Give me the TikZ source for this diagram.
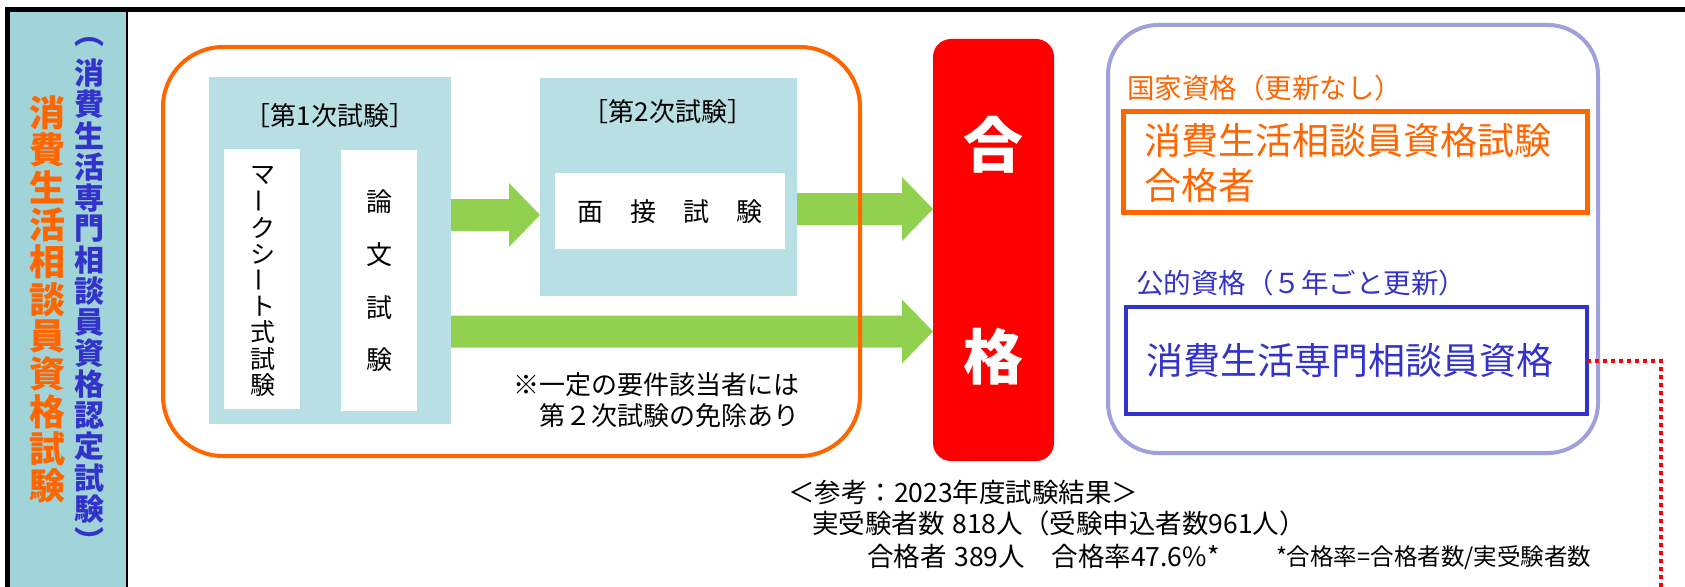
\documentclass[tikz,border=0pt]{standalone}
\usepackage{fontspec}
\usepackage{graphicx}
\setmainfont{Noto Sans CJK JP}
\usetikzlibrary{calc}
\definecolor{orangeC}{RGB}{255,102,0}
\definecolor{blueC}{RGB}{51,51,204}
\definecolor{lavC}{RGB}{160,160,220}
\definecolor{tealL}{RGB}{160,212,216}
\definecolor{tealP}{RGB}{184,223,227}
\definecolor{greenA}{RGB}{146,208,80}
\definecolor{redC}{RGB}{255,0,0}
\newcommand{\vbar}{\rotatebox[origin=c]{90}{ー}}
\newcommand{\blockarrow}[3]{%
  \fill[greenA] let \p1=(#1 |- 0,#3), \p2=(#2 |- 0,#3) in
    (\x1,\y1+16pt) -- (\x2-31pt,\y1+16pt) -- (\x2-31pt,\y1+32pt) -- (\x2,\y1)
    -- (\x2-31pt,\y1-32pt) -- (\x2-31pt,\y1-16pt) -- (\x1,\y1-16pt) -- cycle;}
\begin{document}
\begin{tikzpicture}[x=1pt,y=-1pt,
  every node/.style={inner sep=0pt, outer sep=0pt},
  fsz/.style={font=\fontsize{#1}{#1}\selectfont},
  panelbox/.style={fill=tealP},
  whitebox/.style={fill=white},
  bigframe/.style={line width=4pt, rounded corners=#1},
]
\useasboundingbox (0,0) rectangle (1685,586);
\clip (0,0) rectangle (1685,586);
\fill[white] (0,0) rectangle (1685,586);

% left title panel
\fill[tealL] (10,12) rectangle (126,600);
\draw[line width=2pt] (127,12) -- (127,600);
\draw[line width=5pt] (7.5,600) -- (7.5,9.5) -- (1700,9.5);
\foreach \c [count=\i from 0] in {消,費,生,活,相,談,員,資,格,試,験}
  \node[text=orangeC, font=\bfseries\fontsize{36}{36}\selectfont] (ot\i) at (47, 113+37.3*\i) {\c};
\foreach \c [count=\i from 0] in {︵,消,費,生,活,専,門,相,談,員,資,格,認,定,試,験,︶}
  \node[text=blueC, font=\bfseries\fontsize{30}{30}\selectfont] (bt\i) at (89.5, 42.3+31.1*\i) {\c};

% first exam panel
\node[panelbox, minimum width=242pt, minimum height=347pt] (p1) at (330,250.5) {};
\node[fsz=26] (t1) at (330,116) {［第1次試験］};
\node[whitebox, minimum width=76pt, minimum height=260pt] (m1) at (262,279) {};
\node[whitebox, minimum width=76pt, minimum height=261pt] (m2) at (379,280.5) {};
\foreach \c [count=\i from 0] in {マ,\vbar,ク,シ,\vbar,ト,式,試,験}
  \node[fsz=25] (mk\i) at (263, 175+26.25*\i) {\c};
\foreach \c [count=\i from 0] in {論,文,試,験}
  \node[fsz=26] (rb\i) at (379, 202+52.7*\i) {\c};

% second exam panel
\node[panelbox, minimum width=257pt, minimum height=218pt] (p2) at (668.5,187) {};
\node[fsz=26] (t2) at (668,112) {［第2次試験］};
\node[whitebox, minimum width=230pt, minimum height=76pt] (m3) at (670,211) {};
\foreach \c [count=\i from 0] in {面,接,試,験}
  \node[fsz=26] (mn\i) at (590+53*\i, 212) {\c};

% pass box
\node[fill=redC, rounded corners=18pt, minimum width=121pt, minimum height=422pt] (pass) at (993.5,250) {};
\node[text=white, font=\bfseries\fontsize{60}{60}\selectfont] (g1) at (993,145) {合};
\node[text=white, font=\bfseries\fontsize{60}{60}\selectfont] (g2) at (993,357) {格};

% arrows
\blockarrow{p1.east}{p2.west}{215}
\blockarrow{p2.east}{pass.west}{209}
\blockarrow{p1.east}{pass.west}{331.5}

% orange rounded frame
\node[draw=orangeC, bigframe=60pt, minimum width=697pt, minimum height=409pt] (ob) at (511.5,251.5) {};
\node[font=\fontsize{26}{31}\selectfont, align=right, anchor=east] (note) at (799,400.5)
  {※一定の要件該当者には\\第２次試験の免除あり};

% right qualifications
\node[draw=lavC, bigframe=50pt, minimum width=490pt, minimum height=428pt] (lav) at (1353,239) {};
\node[fsz=27.5, text=orangeC, anchor=west] (kq) at (1127,88) {国家資格（更新なし）};
\node[draw=orangeC, line width=5pt, minimum width=464pt, minimum height=101pt] (obox) at (1355,161.5) {};
\node[fsz=37, text=orangeC, anchor=west] (ol1) at (1144,140) {消費生活相談員資格試験};
\node[fsz=37, text=orangeC, anchor=west] (ol2) at (1144,185) {合格者};
\node[fsz=27.5, text=blueC, anchor=west] (pq) at (1136,283) {公的資格（５年ごと更新）};
\node[draw=blueC, line width=4pt, minimum width=461pt, minimum height=107pt] (bbox) at (1356.5,360.5) {};
\node[fsz=37, text=blueC, anchor=west] (bl1) at (1146,360) {消費生活専門相談員資格};

% dotted connector
\coordinate (dc) at (1661,360.5);
\coordinate (dend) at (1661,600);
\draw[redC, line width=4pt, dash pattern=on 4pt off 4pt] (bbox.east) -- (dc) -- (dend);

% results
\node[fsz=26.5, anchor=west] (r1) at (788,492) {＜参考：2023年度試験結果＞};
\node[fsz=26.5, anchor=west] (r2) at (812,523) {実受験者数\hspace{8pt}818人（受験申込者数961人）};
\node[fsz=26.5, anchor=west] (r3) at (867,556) {合格者\hspace{8pt}389人　合格率47.6\%*};
\node[fsz=23.5, anchor=west] (r4) at (1276,558) {*合格率=合格者数/実受験者数};
\end{tikzpicture}
\end{document}
